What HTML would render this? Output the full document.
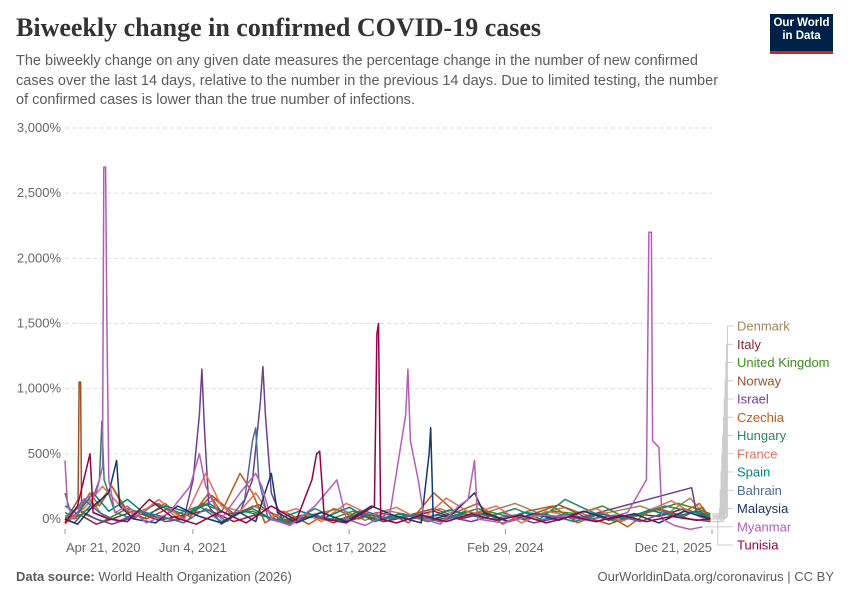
<!DOCTYPE html>
<html><head><meta charset="utf-8">
<style>
body{margin:0;width:850px;height:600px;background:#fff;font-family:"Liberation Sans",sans-serif;overflow:hidden;position:relative}
.t{position:absolute;left:16px;top:13px;font-family:"Liberation Serif",serif;font-size:26px;font-weight:bold;color:#333}
.s{position:absolute;left:16px;top:52px;width:716px;font-size:14.5px;line-height:19.5px;color:#5b5b5b}
.logo{position:absolute;left:770px;top:14px;width:63px;height:34px;background:#002147;border-bottom:3px solid #ce261e;color:#fff;font-size:11.5px;font-weight:bold;line-height:13px;text-align:center;padding-top:3px;box-sizing:content-box}
.f{position:absolute;top:569px;font-size:13px;color:#5b5b5b}
</style></head><body>
<div class="t">Biweekly change in confirmed COVID-19 cases</div>
<div class="s">The biweekly change on any given date measures the percentage change in the number of new confirmed cases over the last 14 days, relative to the number in the previous 14 days. Due to limited testing, the number of confirmed cases is lower than the true number of infections.</div>
<div class="logo">Our World<br>in Data</div>
<svg id="c" width="850" height="600" style="position:absolute;left:0;top:0"></svg>
<div class="f" style="left:16px"><b>Data source:</b> World Health Organization (2026)</div>
<div class="f" style="right:16px">OurWorldinData.org/coronavirus | CC BY</div>
<script>
const yTicks=[0,500,1000,1500,2000,2500,3000];
const yTickLabels=["0%","500%","1,000%","1,500%","2,000%","2,500%","3,000%"];
const xTickDays=[0,409,909,1409,2070];
const xTickLabels=["Apr 21, 2020","Jun 4, 2021","Oct 17, 2022","Feb 29, 2024","Dec 21, 2025"];
const countries=["Denmark","Italy","United Kingdom","Norway","Israel","Czechia","Hungary","France","Spain","Bahrain","Malaysia","Myanmar","Tunisia"];
const colors=["#a2855a","#8c2438","#3a8e1e","#9a5129","#6d3e91","#c05917","#2c8465","#e56e5a","#00847e","#4c6a9c","#18366b","#b45db8","#970046"];
const denmark=[[0,20],[40,80],[80,150],[120,30],[180,-20],[240,60],[300,120],[360,10],[420,80],[480,150],[540,20],[600,100],[660,50],[720,-20],[800,40],[880,80],[960,-10],[1040,60],[1120,20],[1200,80],[1280,10],[1360,60],[1440,120],[1520,40],[1600,90],[1680,20],[1760,60],[1840,100],[1920,30],[2000,160],[2040,50],[2065,20]];
const italy=[[0,-20],[50,30],[100,-40],[150,0],[220,60],[300,-10],[380,30],[460,70],[540,-20],[620,40],[700,-30],[780,20],[860,-10],[940,30],[1020,-20],[1100,20],[1180,60],[1260,0],[1340,40],[1420,-20],[1500,30],[1580,10],[1660,60],[1740,-10],[1820,40],[1900,20],[1980,80],[2040,30],[2065,10]];
const uk=[[0,10],[60,40],[120,-20],[200,80],[280,20],[360,-10],[440,120],[520,40],[600,60],[680,-20],[760,30],[840,-10],[920,60],[1000,0],[1080,40],[1160,-20],[1240,20],[1320,80],[1400,30],[1480,0],[1560,60],[1640,40],[1720,100],[1800,0],[1880,60],[1960,120],[2020,80],[2065,40]];
const norway=[[0,-10],[30,100],[42,150],[45,1050],[50,1050],[53,50],[100,100],[150,250],[200,60],[260,0],[330,80],[400,20],[470,180],[540,40],[620,110],[700,-20],[780,40],[860,-30],[940,60],[1020,0],[1100,30],[1180,80],[1260,10],[1340,60],[1420,-20],[1500,40],[1580,110],[1660,20],[1740,-40],[1820,30],[1900,80],[1980,20],[2040,90],[2065,0]];
const israel=[[0,0],[30,-30],[60,50],[100,0],[150,-40],[200,0],[260,50],[320,-20],[380,0],[410,300],[430,800],[438,1150],[446,700],[460,100],[500,-40],[560,50],[600,300],[625,900],[633,1170],[641,800],[660,200],[700,-30],[800,20],[900,-20],[1000,50],[1100,0],[1200,30],[1300,-20],[1400,50],[1500,-30],[1600,20],[1630,0],[2005,240],[2020,50],[2060,0]];
const czechia=[[0,-20],[40,50],[80,200],[110,100],[150,250],[190,80],[250,0],[320,120],[390,-20],[460,200],[500,50],[560,350],[600,200],[640,-30],[700,60],[780,-40],[860,80],[940,0],[1020,60],[1100,-30],[1180,200],[1250,50],[1320,120],[1400,-40],[1480,60],[1560,100],[1640,-30],[1720,50],[1800,-60],[1880,80],[1960,30],[2030,120],[2065,-20]];
const hungary=[[0,50],[40,0],[80,100],[110,300],[118,750],[125,300],[160,50],[220,0],[290,120],[360,40],[430,100],[500,-20],[570,60],[640,20],[720,-30],[800,80],[880,-10],[960,60],[1040,0],[1120,40],[1200,-20],[1280,60],[1360,20],[1440,80],[1520,0],[1600,150],[1680,60],[1760,-20],[1840,40],[1920,100],[2000,60],[2065,30]];
const france=[[0,-40],[60,80],[120,250],[170,120],[230,20],[300,150],[380,-10],[450,350],[500,100],[560,60],[610,200],[660,20],[740,80],[820,-20],[900,120],[980,30],[1060,90],[1140,-10],[1220,160],[1300,40],[1380,100],[1460,-30],[1540,60],[1620,20],[1700,80],[1780,-20],[1860,60],[1940,140],[2010,40],[2065,-20]];
const spain=[[0,100],[40,40],[90,200],[140,60],[200,150],[260,30],[320,100],[400,50],[460,120],[530,20],[600,80],[670,-10],[750,60],[830,10],[910,90],[990,-20],[1070,40],[1150,0],[1230,70],[1310,20],[1390,-10],[1470,50],[1550,30],[1630,-20],[1710,40],[1790,0],[1870,70],[1950,20],[2030,60],[2065,0]];
const bahrain=[[0,200],[20,30],[60,150],[110,50],[170,-20],[240,60],[310,20],[380,-30],[450,80],[520,-20],[575,150],[600,600],[610,700],[620,300],[650,0],[720,-40],[800,30],[880,-20],[960,40],[1040,0],[1120,30],[1200,-20],[1280,40],[1360,0],[1440,30],[1520,-10],[1600,40],[1680,0],[1760,30],[1840,-20],[1920,50],[2000,0],[2065,-20]];
const malaysia=[[0,0],[40,-40],[90,100],[140,200],[165,450],[175,100],[220,0],[290,-30],[360,100],[430,20],[500,-30],[560,50],[610,-20],[660,350],[680,50],[740,-30],[820,50],[900,-20],[980,100],[1060,20],[1140,-30],[1165,500],[1170,700],[1178,0],[1240,40],[1310,200],[1340,50],[1420,-20],[1500,40],[1580,-10],[1660,60],[1740,0],[1820,40],[1900,-30],[1980,60],[2065,0]];
const myanmar=[[0,450],[8,100],[30,0],[60,150],[100,200],[120,400],[124,2700],[130,2700],[134,1500],[140,300],[160,50],[200,100],[260,-30],[330,40],[400,250],[430,500],[450,250],[500,0],[560,200],[610,350],[630,250],[660,0],[720,-50],[800,100],[870,300],[900,0],[960,-50],[1040,50],[1090,800],[1097,1150],[1105,600],[1130,300],[1150,0],[1200,-40],[1260,100],[1290,150],[1310,450],[1320,0],[1400,-30],[1500,30],[1600,20],[1700,-20],[1800,50],[1860,300],[1868,2200],[1876,2200],[1880,600],[1900,550],[1910,0],[1950,-50],[2000,-80],[2040,-60]];
const tunisia=[[0,-30],[40,100],[80,500],[90,50],[140,0],[200,-20],[270,150],[340,20],[420,-40],[500,60],[580,-30],[660,100],[740,-10],[790,300],[805,500],[815,520],[830,0],[900,-30],[990,100],[998,1420],[1003,1500],[1010,0],[1060,-30],[1140,30],[1220,-20],[1300,40],[1380,-10],[1460,30],[1540,-30],[1620,20],[1700,-20],[1780,30],[1860,-20],[1940,20],[2020,-10],[2065,0]];
const seriesData=[denmark,italy,uk,norway,israel,czechia,hungary,france,spain,bahrain,malaysia,myanmar,tunisia];

const svg=document.getElementById('c');const NS='http://www.w3.org/2000/svg';
const X0=65,X1=712,Y0=519,Y1=128;
const xs=d=>X0+d/2070*(X1-X0);
const ys=v=>Y0-v/3000*(Y0-Y1);
function mk(t,a,p){const e=document.createElementNS(NS,t);for(const k in a)e.setAttribute(k,a[k]);(p||svg).appendChild(e);return e;}
yTicks.forEach((v,i)=>{
  const l=mk('line',{x1:X0,x2:X1,y1:ys(v),y2:ys(v),stroke:'#ddd','stroke-dasharray':'4,3'});
  
  
  const t=mk('text',{x:61,y:ys(v)+4,'text-anchor':'end','font-size':'13','fill':'#666','font-family':'Liberation Sans'});
  t.textContent=yTickLabels[i];
  
  
});
xTickDays.forEach((d,i)=>{
  const tk=mk('line',{x1:xs(d),x2:xs(d),y1:529,y2:534,stroke:'#999'});
  
  
  const anchor=i==0?'start':(i==xTickDays.length-1?'end':'middle');
  const t=mk('text',{x:xs(d)+(i==0?1:0),y:552,'text-anchor':anchor,'font-size':'13','fill':'#666','font-family':'Liberation Sans'});
  t.textContent=xTickLabels[i];
  
  
});
const n=countries.length;
seriesData.forEach((s,i)=>{
  const p=mk('polyline',{points:s.map(q=>xs(q[0]).toFixed(1)+','+ys(q[1]).toFixed(1)).join(' '),fill:'none',stroke:colors[i],'stroke-width':'1.5','stroke-linejoin':'round'});
  
  
  const last=s[s.length-1];const ly=326+i*18.25;const ey=ys(last[1]);const cx=717+(n-i)*0.8;
  const c=mk('polyline',{points:`${xs(last[0])+2},${ey} ${cx},${ey} ${cx},${ly} ${733},${ly}`,fill:'none',stroke:'#ccc','stroke-width':'1'});
  
  
  const t=mk('text',{x:737,y:ly+4.5,'font-size':'13','fill':colors[i],'font-family':'Liberation Sans'});
  t.textContent=countries[i];
  
  
});
</script>
</body></html>
